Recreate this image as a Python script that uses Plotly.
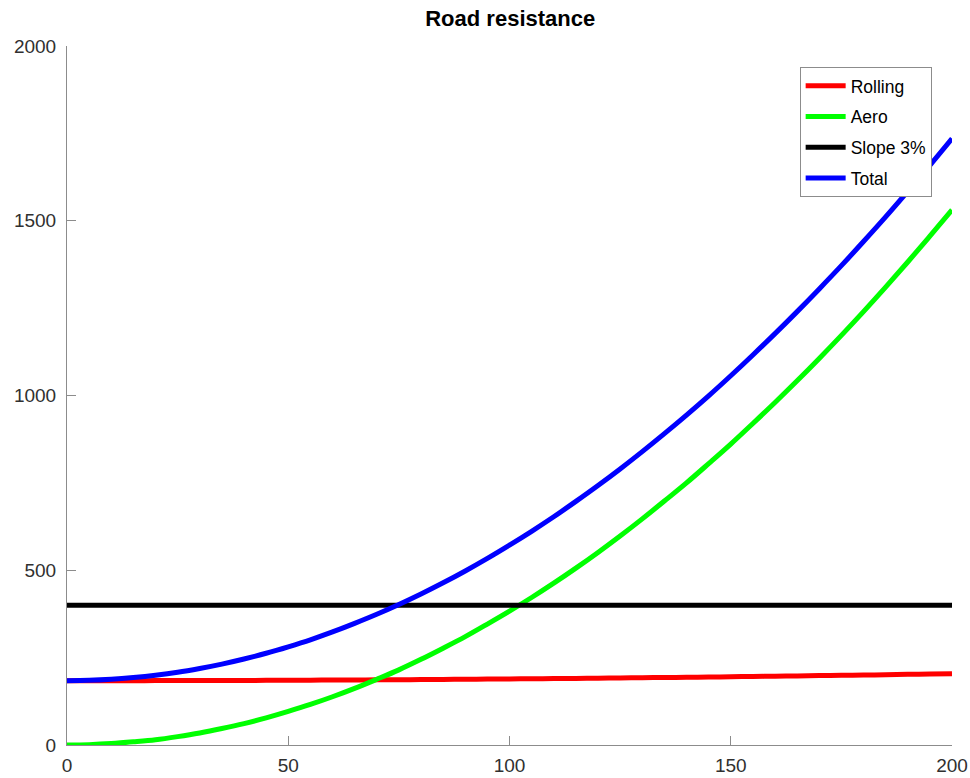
import plotly.graph_objects as go

speed = [0, 5, 10, 15, 20, 25, 30, 35, 40, 45, 50, 55, 60, 65, 70, 75, 80, 85, 90, 95, 100,
         105, 110, 115, 120, 125, 130, 135, 140, 145, 150, 155, 160, 165, 170, 175, 180, 185, 190, 195, 200]

rolling = [184, 184, 184.1, 184.1, 184.2, 184.3, 184.5, 184.6, 184.8, 185, 185.3, 185.5, 185.8, 186.1,
           186.5, 186.8, 187.2, 187.6, 188.1, 188.5, 189, 189.5, 190.1, 190.6, 191.2, 191.8, 192.5,
           193.1, 193.8, 194.5, 195.3, 196, 196.8, 197.6, 198.5, 199.3, 200.2, 201.1, 202.1, 203, 204]

aero = [0, 1, 4, 9, 15, 24, 34.5, 47, 61, 77.5, 96, 116, 138, 162, 188, 215, 245, 277, 310, 346, 383,
        422, 463, 506, 551, 598, 647, 698, 750, 805, 861, 920, 980, 1042, 1106, 1172, 1240, 1310, 1382,
        1456, 1531]

slope = [400] * len(speed)

total = [184, 185, 188, 193, 199.5, 208, 219, 231.5, 246, 262.5, 281, 301, 323.5, 348, 374, 402, 432,
         464, 498, 534, 572, 611.5, 653, 697, 742.5, 790, 839.5, 891, 944, 999, 1056.5, 1116, 1177, 1240,
         1305, 1371.5, 1440.5, 1511, 1584, 1658.5, 1735]

series = [
    ("Rolling", rolling, "#ff0000"),
    ("Aero", aero, "#00ff00"),
    ("Slope 3%", slope, "#000000"),
    ("Total", total, "#0000ff"),
]

x_ticks = [0, 50, 100, 150, 200]
y_ticks = [0, 500, 1000, 1500, 2000]

fig = go.Figure()
for name, vals, col in series:
    fig.add_trace(go.Scatter(x=speed, y=vals, name=name, mode="lines",
                             line=dict(color=col, width=5, shape="spline", smoothing=1),
                             legendgroup=name, cliponaxis=False))

FONT = "Liberation Sans, Arial, sans-serif"
axis_common = dict(showgrid=False, zeroline=False, showline=True, linecolor="#8c8c8c",
                   linewidth=1, ticks="inside", ticklen=9, tickcolor="#8c8c8c",
                   tickfont=dict(family=FONT, size=19, color="#303030"), mirror=False,
                   automargin=False)

fig.update_layout(
    width=970, height=778,
    margin=dict(l=67, r=18, t=46, b=33),
    paper_bgcolor="white", plot_bgcolor="white",
    title=dict(text="<b>Road resistance</b>", x=0.526, xanchor="center", y=0.977, yanchor="middle",
               font=dict(family=FONT, size=22, color="black"), automargin=False),
    xaxis=dict(range=[0, 200], tickvals=x_ticks, ticklabelstandoff=3, **axis_common),
    yaxis=dict(range=[0, 2000], tickvals=y_ticks, ticklabelstandoff=6, **axis_common),
    legend=dict(x=0.977, xanchor="right", y=0.970, yanchor="top",
                bgcolor="white", bordercolor="#8c8c8c", borderwidth=1,
                font=dict(family=FONT, size=17.5, color="black"), tracegroupgap=5,
                traceorder="grouped", itemwidth=40),
    showlegend=True,
)

fig.write_html("out.html", config={"displayModeBar": False},
               post_script="document.body.style.margin='0';")
